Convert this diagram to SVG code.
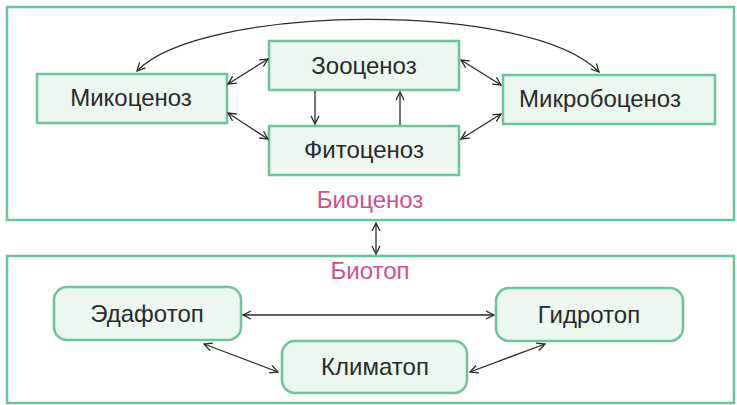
<svg xmlns="http://www.w3.org/2000/svg" width="737" height="405" viewBox="0 0 737 405">
<defs>
<marker id="ah" viewBox="0 0 10 10" refX="9" refY="5" markerWidth="10" markerHeight="10" markerUnits="userSpaceOnUse" orient="auto-start-reverse">
<path d="M1,1 L9,5 L1,9" fill="none" stroke="#2a2a2a" stroke-width="1.3"/>
</marker>
<style>
.frame{fill:none;stroke:#6cc49a;stroke-width:2.5}
.box{fill:#ebf7f0;stroke:#6cc49a;stroke-width:2.5}
.t{font-family:"Liberation Sans",Arial,sans-serif;font-size:24px;fill:#2a2a2a;text-anchor:middle}
.p{font-family:"Liberation Sans",Arial,sans-serif;font-size:24px;fill:#d2508a;text-anchor:middle}
.c{fill:none;stroke:#2a2a2a;stroke-width:1.3}
.b{marker-start:url(#ah);marker-end:url(#ah)}
.e{marker-end:url(#ah)}
</style>
</defs>
<rect width="737" height="405" fill="#ffffff"/>
<g id="biocenoz-frame">
<rect class="frame" x="7" y="7" width="727" height="213"/>
<text class="p" x="370" y="208">Биоценоз</text>
</g>
<g id="biotop-frame">
<rect class="frame" x="7" y="256" width="727" height="147"/>
<text class="p" x="370" y="279">Биотоп</text>
</g>
<g id="mikocenoz">
<rect class="box" x="37" y="74" width="190" height="49"/>
<text class="t" x="131" y="106">Микоценоз</text>
</g>
<g id="zoocenoz">
<rect class="box" x="269" y="41" width="190" height="49"/>
<text class="t" x="364" y="74">Зооценоз</text>
</g>
<g id="fitocenoz">
<rect class="box" x="269" y="126" width="190" height="49"/>
<text class="t" x="364" y="158">Фитоценоз</text>
</g>
<g id="mikrobocenoz">
<rect class="box" x="503" y="75" width="212" height="49"/>
<text class="t" x="600" y="107">Микробоценоз</text>
</g>
<g id="edafotop">
<rect class="box" x="54" y="287" width="187" height="53" rx="13"/>
<text class="t" x="147" y="322">Эдафотоп</text>
</g>
<g id="klimatop">
<rect class="box" x="282" y="341" width="185" height="52" rx="13"/>
<text class="t" x="375" y="375">Климатоп</text>
</g>
<g id="gidrotop">
<rect class="box" x="496" y="288" width="187" height="53" rx="13"/>
<text class="t" x="589" y="323">Гидротоп</text>
</g>
<g id="connectors">
<path class="c b" d="M137,71 C200,4 530,0 599,72"/>
<line class="c b" x1="228" y1="84" x2="268" y2="59"/>
<line class="c b" x1="228" y1="113" x2="268" y2="139"/>
<line class="c e" x1="315" y1="91" x2="315" y2="124"/>
<line class="c e" x1="400" y1="125" x2="400" y2="92"/>
<line class="c b" x1="461" y1="60" x2="501" y2="85"/>
<line class="c b" x1="461" y1="139" x2="501" y2="114"/>
<line class="c b" x1="376" y1="223" x2="376" y2="254"/>
<line class="c b" x1="243" y1="315" x2="494" y2="315"/>
<line class="c b" x1="204" y1="344" x2="278" y2="372"/>
<line class="c b" x1="470" y1="372" x2="545" y2="344"/>
</g>
</svg>
